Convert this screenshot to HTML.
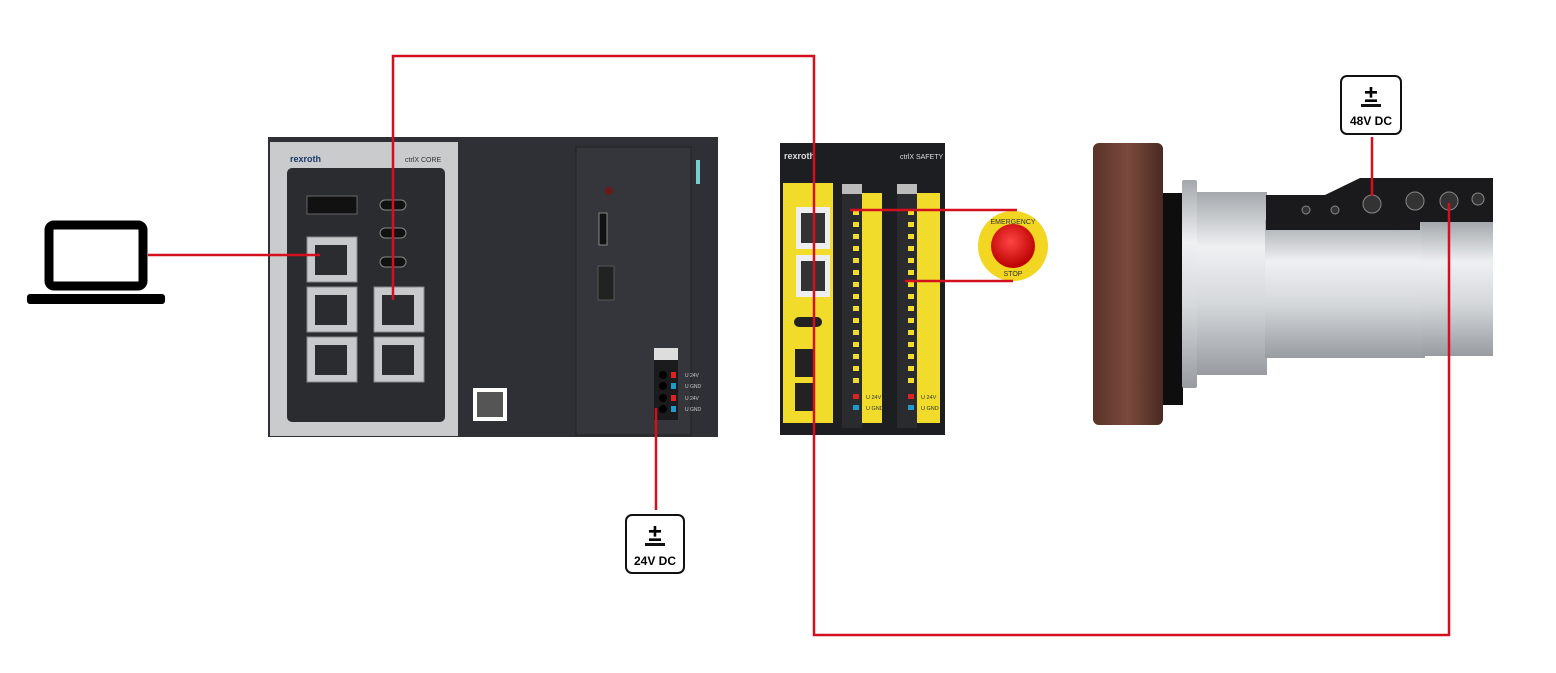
<!DOCTYPE html>
<html><head><meta charset="utf-8"><style>
html,body{margin:0;padding:0;background:#fff;width:1556px;height:673px;overflow:hidden}
svg{display:block}
text{font-family:"Liberation Sans",sans-serif}
</style></head><body>
<svg width="1556" height="673" viewBox="0 0 1556 673" xmlns="http://www.w3.org/2000/svg">
<defs>
<linearGradient id="sil" x1="0" y1="0" x2="0" y2="1"><stop offset="0" stop-color="#a4a8ac"/><stop offset=".3" stop-color="#eef0f2"/><stop offset=".6" stop-color="#d6d9dc"/><stop offset="1" stop-color="#989ca1"/></linearGradient>
<linearGradient id="brn" x1="0" y1="0" x2="1" y2="0"><stop offset="0" stop-color="#5a3328"/><stop offset=".5" stop-color="#7a4a3c"/><stop offset="1" stop-color="#4a2a22"/></linearGradient>
<radialGradient id="red" cx=".45" cy=".4" r=".6"><stop offset="0" stop-color="#f44"/><stop offset="1" stop-color="#b00"/></radialGradient>
</defs>
<!-- laptop -->
<rect x="49" y="225" width="94" height="61" rx="5" fill="none" stroke="#000" stroke-width="9"/>
<rect x="27" y="294" width="138" height="10" rx="3" fill="#000"/>
<!-- ctrlX CORE -->
<rect x="268" y="137" width="450" height="300" fill="#2e3035"/>
<rect x="270" y="142" width="188" height="294" fill="#c9cbcd"/>
<rect x="287" y="168" width="158" height="254" rx="5" fill="#2a2c30"/>
<rect x="576" y="147" width="115" height="288" fill="#34363b" stroke="#222" />
<text x="290" y="162" font-size="9" font-weight="bold" fill="#1a3a6a">rexroth</text>
<text x="405" y="162" font-size="7" fill="#333">ctrlX CORE</text>
<rect x="307" y="196" width="50" height="18" fill="#111" stroke="#666"/>
<g fill="#c7c9cb" stroke="#888">
<rect x="307" y="237" width="50" height="45"/><rect x="307" y="287" width="50" height="45"/><rect x="307" y="337" width="50" height="45"/>
<rect x="374" y="287" width="50" height="45"/><rect x="374" y="337" width="50" height="45"/></g>
<g fill="#2a2c30"><rect x="315" y="245" width="32" height="30"/><rect x="315" y="295" width="32" height="30"/><rect x="315" y="345" width="32" height="30"/><rect x="382" y="295" width="32" height="30"/><rect x="382" y="345" width="32" height="30"/></g>
<g fill="#111" stroke="#888"><rect x="380" y="200" width="26" height="10" rx="5"/><rect x="380" y="228" width="26" height="10" rx="5"/><rect x="380" y="257" width="26" height="10" rx="5"/></g>
<rect x="473" y="388" width="34" height="33" fill="#fff"/>
<rect x="477" y="392" width="26" height="25" fill="#555"/>
<circle cx="609" cy="191" r="4" fill="#6b1a1a"/>
<rect x="599" y="213" width="8" height="32" fill="#111" stroke="#888"/>
<rect x="598" y="266" width="16" height="34" fill="#222" stroke="#555"/>
<rect x="654" y="348" width="24" height="12" fill="#ddd"/>
<rect x="654" y="360" width="24" height="60" fill="#1b1b1d"/>
<g fill="#000"><circle cx="663" cy="375" r="4"/><circle cx="663" cy="386" r="4"/><circle cx="663" cy="398" r="4"/><circle cx="663" cy="409" r="4"/></g>
<rect x="671" y="372" width="5" height="6" fill="#d22"/><rect x="671" y="383" width="5" height="6" fill="#29c"/><rect x="671" y="395" width="5" height="6" fill="#d22"/><rect x="671" y="406" width="5" height="6" fill="#29c"/>
<g font-size="5" fill="#ccc"><text x="685" y="377">U 24V</text><text x="685" y="388">U GND</text><text x="685" y="400">U 24V</text><text x="685" y="411">U GND</text></g>
<rect x="696" y="160" width="4" height="24" fill="#7cc"/>
<!-- Safety -->
<rect x="780" y="143" width="165" height="292" fill="#1d1e21"/>
<rect x="783" y="183" width="50" height="240" fill="#f1dc2c"/>
<rect x="848" y="193" width="34" height="230" fill="#f1dc2c"/>
<rect x="903" y="193" width="37" height="230" fill="#f1dc2c"/>
<rect x="842" y="188" width="20" height="240" fill="#2a2b2e"/>
<rect x="897" y="188" width="20" height="240" fill="#2a2b2e"/>
<rect x="842" y="184" width="20" height="10" fill="#bbb"/><rect x="897" y="184" width="20" height="10" fill="#bbb"/>
<g fill="#f1dc2c">
<rect x="853" y="210" width="6" height="5"/><rect x="853" y="222" width="6" height="5"/><rect x="853" y="234" width="6" height="5"/><rect x="853" y="246" width="6" height="5"/><rect x="853" y="258" width="6" height="5"/><rect x="853" y="270" width="6" height="5"/><rect x="853" y="282" width="6" height="5"/><rect x="853" y="294" width="6" height="5"/><rect x="853" y="306" width="6" height="5"/><rect x="853" y="318" width="6" height="5"/><rect x="853" y="330" width="6" height="5"/><rect x="853" y="342" width="6" height="5"/><rect x="853" y="354" width="6" height="5"/><rect x="853" y="366" width="6" height="5"/><rect x="853" y="378" width="6" height="5"/>
<rect x="908" y="210" width="6" height="5"/><rect x="908" y="222" width="6" height="5"/><rect x="908" y="234" width="6" height="5"/><rect x="908" y="246" width="6" height="5"/><rect x="908" y="258" width="6" height="5"/><rect x="908" y="270" width="6" height="5"/><rect x="908" y="282" width="6" height="5"/><rect x="908" y="294" width="6" height="5"/><rect x="908" y="306" width="6" height="5"/><rect x="908" y="318" width="6" height="5"/><rect x="908" y="330" width="6" height="5"/><rect x="908" y="342" width="6" height="5"/><rect x="908" y="354" width="6" height="5"/><rect x="908" y="366" width="6" height="5"/><rect x="908" y="378" width="6" height="5"/>
</g>
<rect x="853" y="394" width="6" height="5" fill="#d22"/><rect x="853" y="405" width="6" height="5" fill="#29c"/>
<rect x="908" y="394" width="6" height="5" fill="#d22"/><rect x="908" y="405" width="6" height="5" fill="#29c"/>
<g font-size="5.5" fill="#333"><text x="866" y="399">U 24V</text><text x="866" y="410">U GND</text><text x="921" y="399">U 24V</text><text x="921" y="410">U GND</text></g>
<text x="784" y="159" font-size="9" font-weight="bold" fill="#ddd">rexroth</text>
<text x="900" y="159" font-size="7" fill="#ddd">ctrlX SAFETY</text>
<rect x="796" y="207" width="34" height="42" fill="#eee"/><rect x="801" y="213" width="24" height="30" fill="#333"/>
<rect x="796" y="255" width="34" height="42" fill="#eee"/><rect x="801" y="261" width="24" height="30" fill="#333"/>
<rect x="794" y="317" width="28" height="10" rx="5" fill="#222"/>
<rect x="795" y="349" width="18" height="28" fill="#222"/><rect x="795" y="383" width="18" height="28" fill="#222"/>
<!-- E-stop -->
<circle cx="1013" cy="246" r="35" fill="#f2d622"/>
<circle cx="1013" cy="246" r="22" fill="url(#red)"/>
<text x="1013" y="224" font-size="7" text-anchor="middle" fill="#333">EMERGENCY</text>
<text x="1013" y="276" font-size="7" text-anchor="middle" fill="#333">STOP</text>
<!-- Motor -->
<rect x="1093" y="143" width="70" height="282" rx="6" fill="url(#brn)"/>
<rect x="1163" y="193" width="20" height="212" fill="#0e0e0e"/>
<rect x="1182" y="180" width="15" height="208" rx="2" fill="url(#sil)"/>
<rect x="1197" y="192" width="70" height="183" fill="url(#sil)"/>
<rect x="1265" y="220" width="160" height="138" fill="url(#sil)"/>
<rect x="1422" y="222" width="71" height="134" fill="url(#sil)"/>
<path d="M1266 195 L1325 195 L1360 178 L1493 178 L1493 222 L1420 222 L1420 230 L1266 230 Z" fill="#1a1a1c"/>
<g fill="#333" stroke="#888"><circle cx="1306" cy="210" r="4"/><circle cx="1335" cy="210" r="4"/><circle cx="1372" cy="204" r="9"/><circle cx="1415" cy="201" r="9"/><circle cx="1449" cy="201" r="9"/><circle cx="1478" cy="199" r="6"/></g>
<!-- connectors -->
<g fill="none" stroke="#d4101e" stroke-width="2.5">
<path d="M148 255 H320"/>
<path d="M393 300 V56 H814 V635 H1449 V203"/>
<path d="M850 210 H1017"/>
<path d="M905 281 H1013"/>
<path d="M656 408 V510"/>
<path d="M1372 137 V196"/>
</g>
<!-- power boxes -->
<rect x="626" y="515" width="58" height="58" rx="6" fill="#fff" stroke="#111" stroke-width="2"/>
<text x="655" y="541" font-size="24" font-weight="bold" text-anchor="middle">±</text>
<rect x="645" y="543" width="20" height="3" fill="#111"/>
<text x="655" y="565" font-size="12" font-weight="bold" text-anchor="middle">24V DC</text>
<rect x="1341" y="76" width="60" height="58" rx="6" fill="#fff" stroke="#111" stroke-width="2"/>
<text x="1371" y="102" font-size="24" font-weight="bold" text-anchor="middle">±</text>
<rect x="1361" y="104" width="20" height="3" fill="#111"/>
<text x="1371" y="125" font-size="12" font-weight="bold" text-anchor="middle">48V DC</text>
</svg>
</body></html>
